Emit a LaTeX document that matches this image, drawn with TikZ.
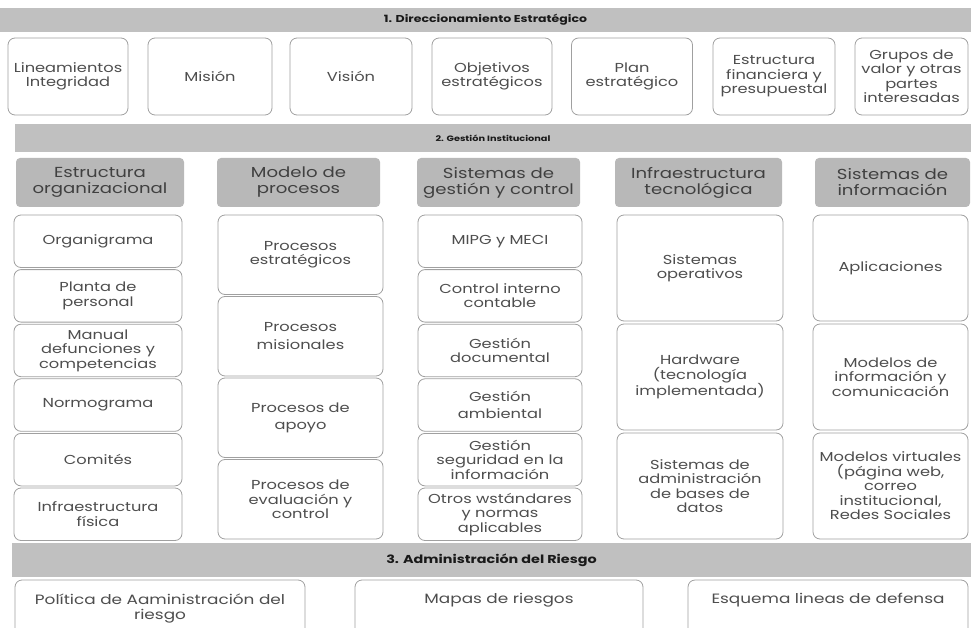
\documentclass[tikz,border=0pt]{standalone}
\usepackage{fontspec}
\setmainfont{Poppins}[FakeStretch=1.25]
\definecolor{barfill}{RGB}{192,192,192}
\definecolor{headfill}{RGB}{184,184,184}
\definecolor{edgegray}{RGB}{160,160,160}
\definecolor{inkgray}{RGB}{78,78,78}
\tikzset{
  bar/.style={fill=barfill, draw=none, inner sep=0pt, text=black!90},
  cell/.style={draw=edgegray, line width=0.8pt, rounded corners=7pt, fill=white,
    align=center, inner sep=1pt, text=inkgray, font=\fontsize{13}{14.5}\selectfont},
  headbox/.style={fill=headfill, draw=none, rounded corners=4pt, align=center,
    inner sep=1pt, text=black!75, font=\fontsize{14.5}{16}\selectfont},
}
\begin{document}
\begin{tikzpicture}[x=1pt,y=-1pt]
  \useasboundingbox (0,0) rectangle (971,628);
  \clip (0,0) rectangle (971,628);
  % section bars
  \node[bar, minimum width=971, minimum height=24, font=\fontsize{10}{12}\bfseries]
    (direcc) at (485.5,20) {1. Direccionamiento Estratégico};
  \node[bar, minimum width=956, minimum height=28, font=\fontsize{7.8}{9}\bfseries]
    (gestion) at (493,138) {2. Gestión Institucional};
  \node[bar, minimum width=959, minimum height=34, font=\fontsize{11.5}{13}\bfseries]
    (riesgo) at (491.5,560) {3. Administración del Riesgo};
  % row 1: strategic elements
  \foreach \nm/\cx/\w/\txt in {lin/68/120/{Lineamientos\\Integridad}, mis/210/124/Misión,
      vis/351/122/Visión, obj/492/120/{Objetivos\\estratégicos},
      plan/632/121/{Plan\\estratégico}, fin/774/122/{Estructura\\financiera y\\presupuestal},
      grp/911.5/113/{Grupos de\\valor y otras\\partes\\interesadas}}
    \node[cell, minimum width=\w, minimum height=77] (\nm) at (\cx,76.5) {\txt};
  % column headers
  \node[headbox, minimum width=168, minimum height=49] (hEstr) at (100,182.5) {Estructura\\organizacional};
  \node[headbox, minimum width=163, minimum height=49] (hProc) at (298.5,182.5) {Modelo de\\procesos};
  \node[headbox, minimum width=163, minimum height=49] (hSist) at (498.5,182.5) {Sistemas de\\gestión y control};
  \node[headbox, minimum width=167, minimum height=49] (hInfra) at (698.5,182.5) {Infraestructura\\tecnológica};
  \node[headbox, minimum width=155, minimum height=49] (hInfo) at (892.5,182.5) {Sistemas de\\información};
  % column 1
  \foreach \txt [count=\i] in {Organigrama, {Planta de\\personal},
      {Manual\\defunciones y\\competencias}, Normograma, Comités, {Infraestructura\\física}}
    \node[cell, minimum width=168, minimum height=52.5] (estr\i) at (98,{241.25+54.6*(\i-1)}) {\txt};
  % column 2
  \foreach \txt [count=\i] in {{Procesos\\estratégicos}, {Procesos\\[3pt]misionales},
      {Procesos de\\[3pt]apoyo}, {Procesos de\\evaluación y\\control}}
    \node[cell, minimum width=165, minimum height=79.5] (proc\i) at (300.5,{254.75+81.5*(\i-1)}) {\txt};
  % column 3
  \foreach \txt [count=\i] in {MIPG y MECI, {Control interno\\contable}, {Gestión\\documental},
      {Gestión\\[3pt]ambiental}, {Gestión\\seguridad en la\\información},
      {Otros wstándares\\y normas\\aplicables}}
    \node[cell, minimum width=164, minimum height=52.5] (sist\i) at (500,{241.25+54.6*(\i-1)}) {\txt};
  % column 4
  \foreach \txt [count=\i] in {{Sistemas\\operativos}, {Hardware\\(tecnología\\implementada)},
      {Sistemas de\\administración\\de bases de\\datos}}
    \node[cell, minimum width=166, minimum height=106] (infra\i) at (700,{268+109*(\i-1)}) {\txt};
  % column 5
  \foreach \txt [count=\i] in {Aplicaciones, {Modelos de\\información y\\comunicación},
      {Modelos virtuales\\(página web,\\correo\\institucional,\\Redes Sociales}}
    \node[cell, minimum width=155, minimum height=106] (info\i) at (890.5,{268+109*(\i-1)}) {\txt};
  % risk row (cut off at the bottom)
  \node[cell, minimum width=290, minimum height=56, font=\fontsize{13.5}{15}\selectfont]
    (polit) at (160,608) {Política de Aaministración del\\riesgo};
  \node[cell, minimum width=288, minimum height=56, text depth=19pt, font=\fontsize{13.5}{15}\selectfont]
    (mapas) at (499,608) {Mapas de riesgos};
  \node[cell, minimum width=280, minimum height=56, text depth=19pt, font=\fontsize{13.5}{15}\selectfont]
    (esquema) at (828,608) {Esquema lineas de defensa};
\end{tikzpicture}
\end{document}
